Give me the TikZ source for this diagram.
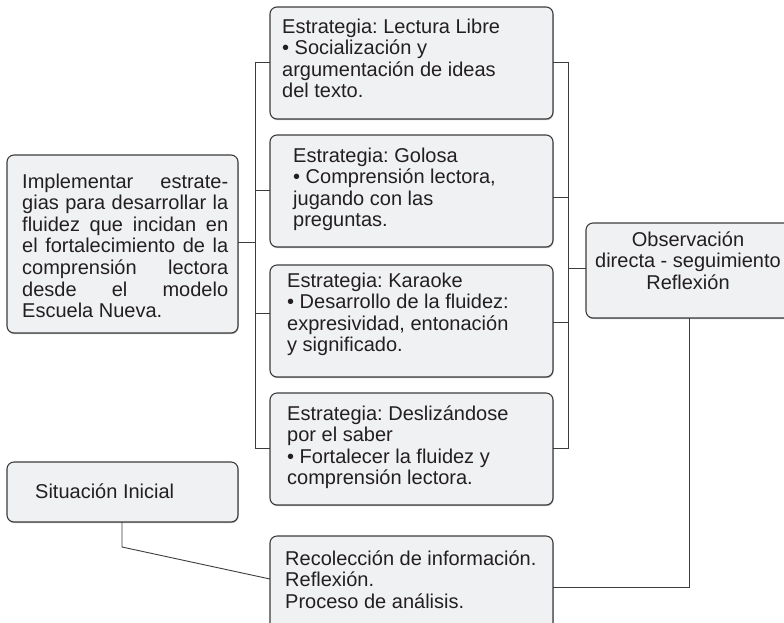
\documentclass[tikz,border=0pt]{standalone}
\usepackage{fontspec}
\setmainfont{Liberation Sans}
\frenchspacing
\usetikzlibrary{shadows}
\definecolor{boxfill}{HTML}{F0F1F3}
\definecolor{edge}{HTML}{3C3C3C}
\definecolor{ink}{HTML}{231F20}
\tikzset{
 box/.style={draw=edge, line width=1.1pt, fill=boxfill, rounded corners=7pt, inner sep=0pt, outer sep=0pt, anchor=north west,
   drop shadow={shadow xshift=0.6pt, shadow yshift=-1.2pt, fill=black!45, opacity=0.6}},
 txt/.style={inner sep=0pt, anchor=base west, align=left, text=ink, font=\fontsize{20}{21.6}\selectfont\frenchspacing},
 link/.style={draw=edge, line width=0.9pt},
}
\begin{document}
\begin{tikzpicture}[x=1pt,y=-1pt]
\useasboundingbox (0,0) rectangle (784,622);
% boxes
\node[box, minimum width=283pt, minimum height=112pt] (b1) at (270,7) {};
\node[box, minimum width=283pt, minimum height=112pt] (b2) at (270,135) {};
\node[box, minimum width=283pt, minimum height=112pt] (b3) at (270,265) {};
\node[box, minimum width=283pt, minimum height=112pt] (b4) at (270,393) {};
\node[box, minimum width=231pt, minimum height=178pt] (L) at (7,155) {};
\node[box, minimum width=231pt, minimum height=60pt] (S) at (7,462) {};
\node[box, minimum width=283pt, minimum height=110pt] (R) at (270,536) {};
\node[box, minimum width=220pt, minimum height=95pt] (O) at (586,223) {};
% texts (anchor base = baseline of the last line)
\node[txt] (t1) at (282,97.8) {Estrategia: Lectura Libre\\• Socialización y\\argumentación de ideas\\del texto.};
\node[txt] (t2) at (293,226.8) {Estrategia: Golosa\\• Comprensión lectora,\\jugando con las\\preguntas.};
\node[txt] (t3) at (287,351.8) {Estrategia: Karaoke\\• Desarrollo de la fluidez:\\expresividad, entonación\\y significado.};
\node[txt] (t4) at (287,484.8) {Estrategia: Deslizándose\\por el saber\\• Fortalecer la fluidez y\\comprensión lectora.};
\node[txt] (tL) at (22,317.6) {\makebox[206pt][s]{Implementar estrate-}\\
\makebox[206pt][s]{gias para desarrollar la}\\
\makebox[206pt][s]{fluidez que incidan en}\\
\makebox[206pt][s]{el fortalecimiento de la}\\
\makebox[206pt][s]{comprensión lectora}\\
\makebox[206pt][s]{desde el modelo}\\
Escuela Nueva.};
\node[txt, anchor=base, align=center] (tO) at (688,289.2) {Observación\\directa - seguimiento\\Reflexión};
\node[txt] (tS) at (35,498) {Situación Inicial};
\node[txt] (tR) at (285,608.2) {Recolección de información.\\Reflexión.\\Proceso de análisis.};
% connectors
\draw[link] (b1.west |- 0,62) -- (255,62) -- (255,448) -- (b4.west |- 0,448);
\draw[link] (b2.west |- 0,190) -- (255,190);
\draw[link] (b3.west |- 0,313) -- (255,313);
\draw[link] (L.east |- 0,242) -- (255,242);
\draw[link] (b1.east |- 0,62) -- (568,62) -- (568,448) -- (b4.east |- 0,448);
\draw[link] (b2.east |- 0,197) -- (568,197);
\draw[link] (b3.east |- 0,322) -- (568,322);
\draw[link] (568,268) -- (O.west |- 0,268);
\draw[link] (O.south -| 689,0) -- (689,587) -- (R.east |- 0,587);
\draw[link] (S.south -| 122,0) -- (122,547) -- (R.west |- 0,579);
\end{tikzpicture}
\end{document}
